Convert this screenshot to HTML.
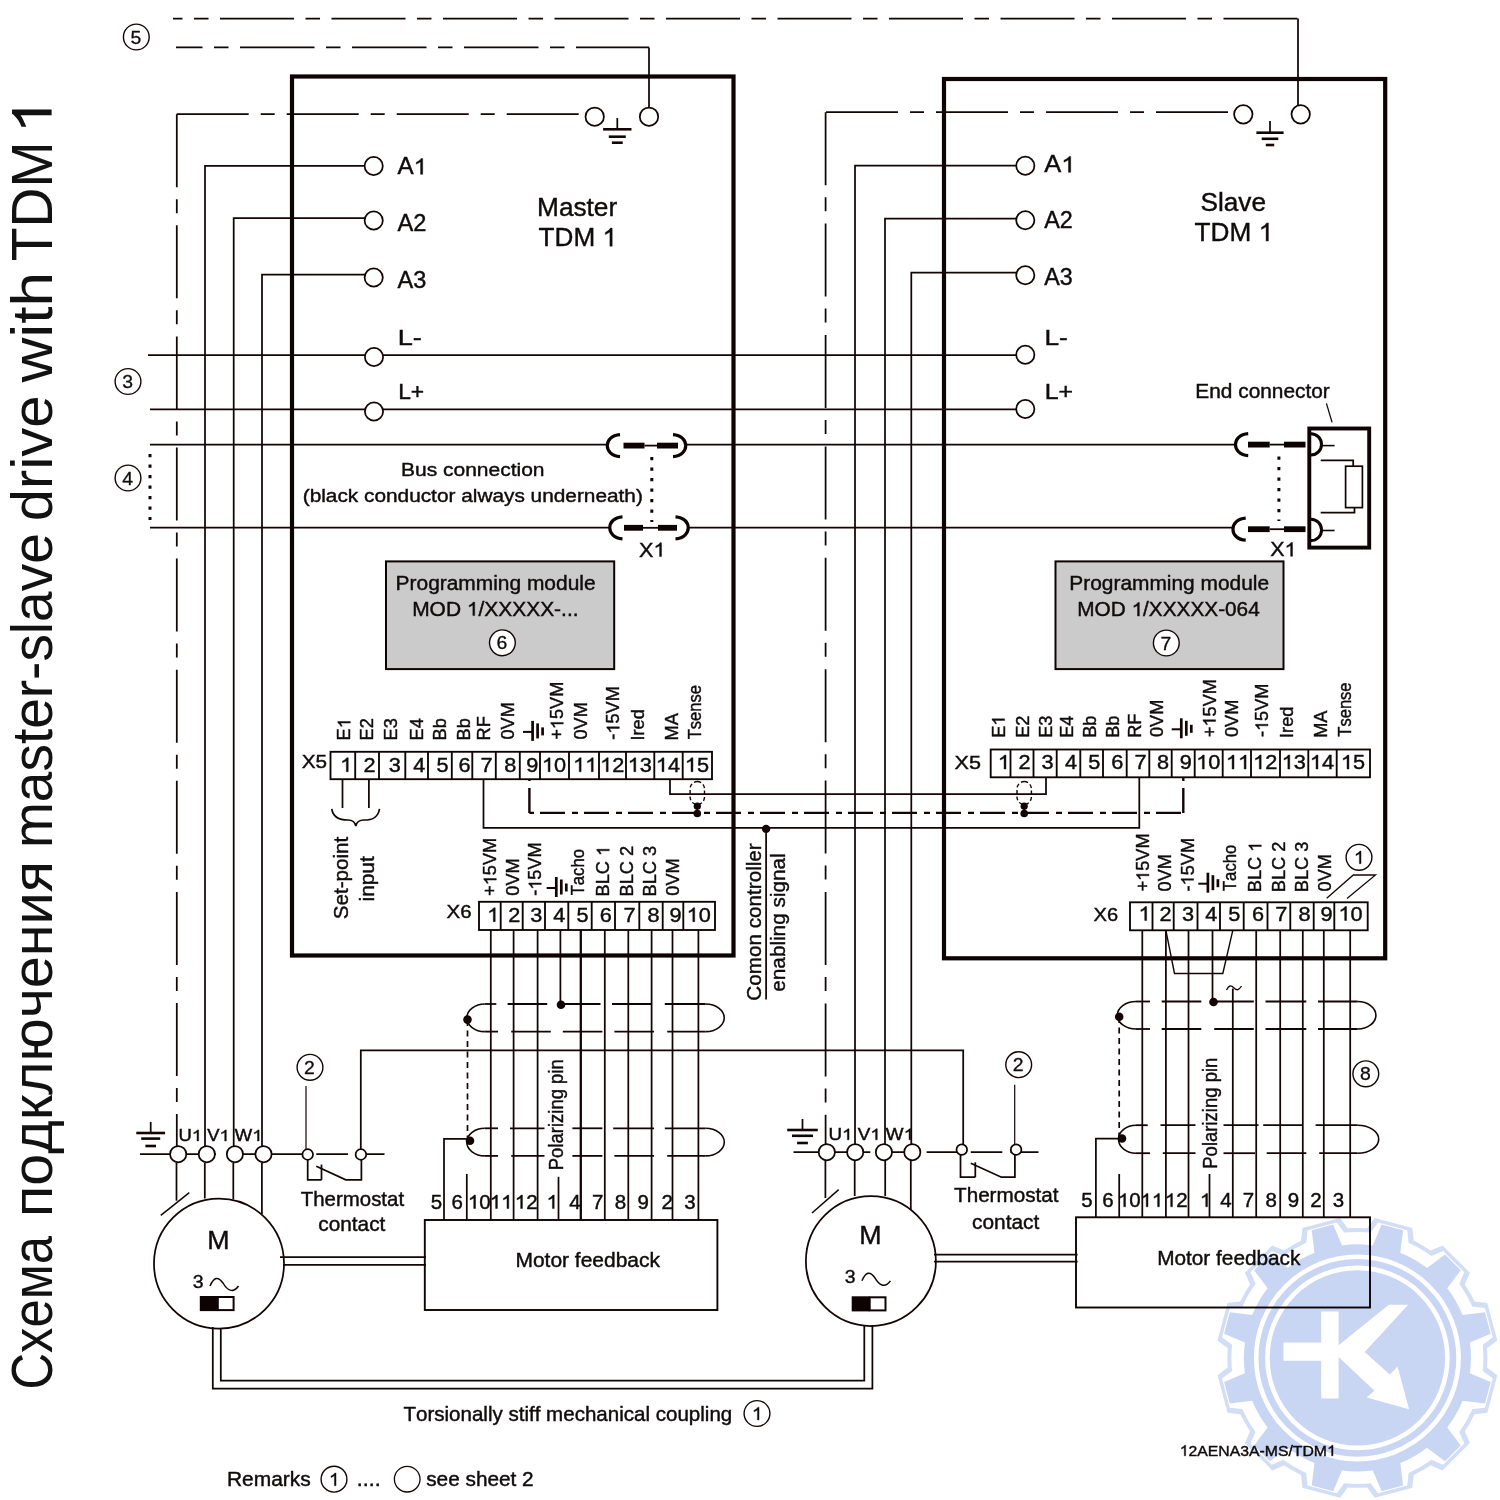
<!DOCTYPE html>
<html><head><meta charset="utf-8">
<style>
html,body{margin:0;padding:0;background:#fff;width:1500px;height:1500px;overflow:hidden}
svg{display:block;position:absolute;left:0;top:0}
text{font-family:"Liberation Sans",sans-serif;font-kerning:none;font-variant-ligatures:none}
</style></head><body>
<svg width="1500" height="1500" viewBox="0 0 1500 1500">
<rect x="0" y="0" width="1500" height="1500" fill="#fff"/>
<g transform="translate(51.60,1389.58) rotate(-90) scale(0.8838,1)" fill="#121212"><text font-size="57.5" stroke="#121212" stroke-width="0">Схема</text></g>
<g transform="translate(51.60,1216.99) rotate(-90) scale(1.0015,1)" fill="#121212"><text font-size="57.5" stroke="#121212" stroke-width="0">подключения</text></g>
<g transform="translate(51.60,847.95) rotate(-90) scale(0.9562,1)" fill="#121212"><text font-size="57.5" stroke="#121212" stroke-width="0">master-slave</text></g>
<g transform="translate(51.60,521.13) rotate(-90) scale(1.0079,1)" fill="#121212"><text font-size="57.5" stroke="#121212" stroke-width="0">drive</text></g>
<g transform="translate(51.60,382.61) rotate(-90) scale(1.0821,1)" fill="#121212"><text font-size="57.5" stroke="#121212" stroke-width="0">with</text></g>
<g transform="translate(51.60,261.24) rotate(-90) scale(0.9626,1)" fill="#121212"><text font-size="57.5" stroke="#121212" stroke-width="0">TDM</text></g>
<g transform="translate(51.60,133.72) rotate(-90) scale(1.1258,1)" fill="#121212"><text font-size="57.5" stroke="#121212" stroke-width="0"> </text><path d="M763,0H583V1107C530,1057 320,940 222,905V1075C370,1135 550,1270 628,1409H763Z" transform="translate(0.00,0) scale(0.02808,-0.02808)" stroke="#121212" stroke-width="0.0"/></g>
<path d="M173,18.6 H1298" fill="none" stroke="#140505" stroke-width="1.75" stroke-dasharray="74 11.5 14.5 11.5" stroke-dashoffset="64.5"/>
<line x1="1298" y1="18.6" x2="1298" y2="105.3" stroke="#140505" stroke-width="1.75" />
<path d="M176,47.4 H649" fill="none" stroke="#140505" stroke-width="1.75" stroke-dasharray="74.5 11.5 14.5 11.5" stroke-dashoffset="48"/>
<line x1="649" y1="47.4" x2="649" y2="108" stroke="#140505" stroke-width="1.75" />
<circle cx="136.3" cy="37" r="12.9" fill="#fff" stroke="#140505" stroke-width="1.4" />
<g transform="translate(130.42,43.50) scale(1.0500,1)" fill="#100c0c"><text font-size="18.5" stroke="#100c0c" stroke-width="0.3">5</text></g>
<rect x="292" y="76.5" width="441.50" height="879.00" fill="none" stroke="#0e0303" stroke-width="4.2" />
<rect x="944" y="79" width="441.20" height="879.30" fill="none" stroke="#0e0303" stroke-width="4.2" />
<path d="M176.7,114.2 H585.5" fill="none" stroke="#140505" stroke-width="1.75" stroke-dasharray="72 12 14 12"/>
<path d="M176.8,114.2 V1147" fill="none" stroke="#140505" stroke-width="1.75" stroke-dasharray="73 12 14 12.1"/>
<circle cx="594.7" cy="116.7" r="9.2" fill="#fff" stroke="#140505" stroke-width="1.75" />
<circle cx="649" cy="116.7" r="9.2" fill="#fff" stroke="#140505" stroke-width="1.75" />
<line x1="617.3" y1="118" x2="617.3" y2="129" stroke="#140505" stroke-width="1.75" />
<line x1="603.0999999999999" y1="129.3" x2="631.5" y2="129.3" stroke="#140505" stroke-width="2.6" />
<line x1="608.8" y1="136.7" x2="625.8" y2="136.7" stroke="#140505" stroke-width="2.6" />
<line x1="611.9" y1="142.7" x2="622.6999999999999" y2="142.7" stroke="#140505" stroke-width="2.6" />
<path d="M826,112.2 H1234" fill="none" stroke="#140505" stroke-width="1.75" stroke-dasharray="72 12 14 12"/>
<path d="M825.6,112.2 V1144" fill="none" stroke="#140505" stroke-width="1.75" stroke-dasharray="73 12 14 12.4"/>
<circle cx="1243.3" cy="114.3" r="9.2" fill="#fff" stroke="#140505" stroke-width="1.75" />
<circle cx="1300.7" cy="114.3" r="9.2" fill="#fff" stroke="#140505" stroke-width="1.75" />
<line x1="1270" y1="121" x2="1270" y2="132.5" stroke="#140505" stroke-width="1.75" />
<line x1="1256.4" y1="132.7" x2="1283.6" y2="132.7" stroke="#140505" stroke-width="2.6" />
<line x1="1261.7" y1="138.8" x2="1278.3" y2="138.8" stroke="#140505" stroke-width="2.6" />
<line x1="1265.8" y1="145" x2="1274.2" y2="145" stroke="#140505" stroke-width="2.6" />
<polyline points="205,1147 205,165.9 364.8,165.9" fill="none" stroke="#140505" stroke-width="1.75" />
<circle cx="373.7" cy="166" r="9.1" fill="#fff" stroke="#140505" stroke-width="1.75" />
<g transform="translate(397.55,174.30) scale(1.0518,1)" fill="#100c0c"><text font-size="23" stroke="#100c0c" stroke-width="0.42">A </text><path d="M763,0H583V1107C530,1057 320,940 222,905V1075C370,1135 550,1270 628,1409H763Z" transform="translate(15.34,0) scale(0.01123,-0.01123)" stroke="#100c0c" stroke-width="37.4"/></g>
<polyline points="233.7,1147 233.7,218 364.8,218" fill="none" stroke="#140505" stroke-width="1.75" />
<circle cx="373.7" cy="220.5" r="9.1" fill="#fff" stroke="#140505" stroke-width="1.75" />
<g transform="translate(397.55,230.90) scale(1.0286,1)" fill="#100c0c"><text font-size="23" stroke="#100c0c" stroke-width="0.42">A2</text></g>
<polyline points="262,1147 262,274.6 364.8,274.6" fill="none" stroke="#140505" stroke-width="1.75" />
<circle cx="373.7" cy="277.5" r="9.1" fill="#fff" stroke="#140505" stroke-width="1.75" />
<g transform="translate(397.55,287.70) scale(1.0230,1)" fill="#100c0c"><text font-size="23" stroke="#100c0c" stroke-width="0.42">A3</text></g>
<polyline points="855,1144 855,165.7 1016,165.7" fill="none" stroke="#140505" stroke-width="1.75" />
<circle cx="1025.3" cy="165.7" r="9.1" fill="#fff" stroke="#140505" stroke-width="1.75" />
<g transform="translate(1044.25,172.30) scale(1.1062,1)" fill="#100c0c"><text font-size="23" stroke="#100c0c" stroke-width="0.42">A </text><path d="M763,0H583V1107C530,1057 320,940 222,905V1075C370,1135 550,1270 628,1409H763Z" transform="translate(15.34,0) scale(0.01123,-0.01123)" stroke="#100c0c" stroke-width="37.4"/></g>
<polyline points="885,1144 885,218.5 1016,218.5" fill="none" stroke="#140505" stroke-width="1.75" />
<circle cx="1025.3" cy="220.3" r="9.1" fill="#fff" stroke="#140505" stroke-width="1.75" />
<g transform="translate(1044.25,228.30) scale(1.0174,1)" fill="#100c0c"><text font-size="23" stroke="#100c0c" stroke-width="0.42">A2</text></g>
<polyline points="911.3,1144 911.3,272.5 1016,272.5" fill="none" stroke="#140505" stroke-width="1.75" />
<circle cx="1025.3" cy="275.3" r="9.1" fill="#fff" stroke="#140505" stroke-width="1.75" />
<g transform="translate(1044.25,285.00) scale(1.0119,1)" fill="#100c0c"><text font-size="23" stroke="#100c0c" stroke-width="0.42">A3</text></g>
<line x1="148" y1="355" x2="1017" y2="355" stroke="#140505" stroke-width="1.75" />
<circle cx="374" cy="357" r="9.1" fill="#fff" stroke="#140505" stroke-width="1.75" />
<circle cx="1025.3" cy="354.7" r="9.1" fill="#fff" stroke="#140505" stroke-width="1.75" />
<g transform="translate(397.77,345.00) scale(1.2337,1)" fill="#100c0c"><text font-size="22" stroke="#100c0c" stroke-width="0.42">L-</text></g>
<g transform="translate(1044.55,345.00) scale(1.1919,1)" fill="#100c0c"><text font-size="22" stroke="#100c0c" stroke-width="0.42">L-</text></g>
<line x1="150" y1="409.3" x2="1017" y2="409.3" stroke="#140505" stroke-width="1.75" />
<circle cx="374" cy="411.5" r="9.1" fill="#fff" stroke="#140505" stroke-width="1.75" />
<circle cx="1025.3" cy="409" r="9.1" fill="#fff" stroke="#140505" stroke-width="1.75" />
<g transform="translate(398.13,399.00) scale(1.0363,1)" fill="#100c0c"><text font-size="22" stroke="#100c0c" stroke-width="0.42">L+</text></g>
<g transform="translate(1044.67,399.00) scale(1.1265,1)" fill="#100c0c"><text font-size="22" stroke="#100c0c" stroke-width="0.42">L+</text></g>
<circle cx="128" cy="381.5" r="12.9" fill="#fff" stroke="#140505" stroke-width="1.4" />
<g transform="translate(122.16,388.00) scale(1.0500,1)" fill="#100c0c"><text font-size="18.5" stroke="#100c0c" stroke-width="0.3">3</text></g>
<line x1="150" y1="444.5" x2="606.5" y2="444.5" stroke="#140505" stroke-width="1.75" />
<line x1="686" y1="444.5" x2="1235" y2="444.5" stroke="#140505" stroke-width="1.75" />
<line x1="150" y1="527.5" x2="609" y2="527.5" stroke="#140505" stroke-width="1.75" />
<line x1="688.5" y1="527.5" x2="1232.7" y2="527.5" stroke="#140505" stroke-width="1.75" />
<path d="M150,454 V520" fill="none" stroke="#140505" stroke-width="3.0" stroke-dasharray="3.2 7.3"/>
<circle cx="128" cy="478" r="12.9" fill="#fff" stroke="#140505" stroke-width="1.4" />
<g transform="translate(122.16,484.50) scale(1.0500,1)" fill="#100c0c"><text font-size="18.5" stroke="#100c0c" stroke-width="0.3">4</text></g>
<g transform="translate(400.98,476.00) scale(1.1060,1)" fill="#100c0c"><text font-size="19" stroke="#100c0c" stroke-width="0.42">Bus connection</text></g>
<g transform="translate(302.71,501.70) scale(1.0959,1)" fill="#100c0c"><text font-size="19" stroke="#100c0c" stroke-width="0.42">(black conductor always underneath)</text></g>
<path d="M620,434.6 C603,435.6 603,455.6 620,456.6" fill="none" stroke="#0e0303" stroke-width="3.2" />
<rect x="623.5" y="442.70000000000005" width="21.0" height="5.8" fill="#0e0303"/>
<rect x="657" y="442.70000000000005" width="21" height="5.8" fill="#0e0303"/>
<line x1="644.5" y1="445.6" x2="657" y2="445.6" stroke="#140505" stroke-width="1.8" />
<path d="M673,434.6 C690,435.6 690,455.6 673,456.6" fill="none" stroke="#0e0303" stroke-width="3.2" />
<path d="M622.5,516.8 C605.5,517.8 605.5,537.8 622.5,538.8" fill="none" stroke="#0e0303" stroke-width="3.2" />
<rect x="624" y="524.9" width="19" height="5.8" fill="#0e0303"/>
<rect x="658" y="524.9" width="19" height="5.8" fill="#0e0303"/>
<line x1="643" y1="527.8" x2="658" y2="527.8" stroke="#140505" stroke-width="1.8" />
<path d="M675.5,516.8 C692.5,517.8 692.5,537.8 675.5,538.8" fill="none" stroke="#0e0303" stroke-width="3.2" />
<path d="M651.8,457 V522" fill="none" stroke="#140505" stroke-width="3.0" stroke-dasharray="3.2 7.3"/>
<g transform="translate(639.01,556.50) scale(1.0815,1)" fill="#100c0c"><text font-size="20" stroke="#100c0c" stroke-width="0.42">X </text><path d="M763,0H583V1107C530,1057 320,940 222,905V1075C370,1135 550,1270 628,1409H763Z" transform="translate(13.34,0) scale(0.00977,-0.00977)" stroke="#100c0c" stroke-width="43.0"/></g>
<path d="M1248.2,433.6 C1231.2,434.6 1231.2,454.6 1248.2,455.6" fill="none" stroke="#0e0303" stroke-width="3.2" />
<rect x="1248" y="441.70000000000005" width="21.700000000000045" height="5.8" fill="#0e0303"/>
<rect x="1284" y="441.70000000000005" width="21.5" height="5.8" fill="#0e0303"/>
<line x1="1269.7" y1="444.6" x2="1284" y2="444.6" stroke="#140505" stroke-width="1.8" />
<path d="M1245.7,518.2 C1228.7,519.2 1228.7,539.2 1245.7,540.2" fill="none" stroke="#0e0303" stroke-width="3.2" />
<rect x="1248" y="526.3000000000001" width="21.700000000000045" height="5.8" fill="#0e0303"/>
<rect x="1284" y="526.3000000000001" width="21.5" height="5.8" fill="#0e0303"/>
<line x1="1269.7" y1="529.2" x2="1284" y2="529.2" stroke="#140505" stroke-width="1.8" />
<path d="M1278.9,456.5 V521" fill="none" stroke="#140505" stroke-width="3.0" stroke-dasharray="3.2 7.3"/>
<g transform="translate(1270.22,556.30) scale(1.0717,1)" fill="#100c0c"><text font-size="20" stroke="#100c0c" stroke-width="0.42">X </text><path d="M763,0H583V1107C530,1057 320,940 222,905V1075C370,1135 550,1270 628,1409H763Z" transform="translate(13.34,0) scale(0.00977,-0.00977)" stroke="#100c0c" stroke-width="43.0"/></g>
<rect x="1309.3" y="428.5" width="59.90" height="119.10" fill="none" stroke="#0e0303" stroke-width="3.9" />
<path d="M1311,433.8 A10.5,10.6 0 0 1 1311,455" fill="none" stroke="#0e0303" stroke-width="3.0" />
<path d="M1311,519.3 A10.5,10.6 0 0 1 1311,540.6" fill="none" stroke="#0e0303" stroke-width="3.0" />
<line x1="1322" y1="445.6" x2="1334.6" y2="445.6" stroke="#140505" stroke-width="1.6" />
<line x1="1322" y1="530.5" x2="1334.6" y2="530.5" stroke="#140505" stroke-width="1.6" />
<rect x="1345.6" y="466.2" width="16.80" height="41.40" fill="none" stroke="#140505" stroke-width="1.7" />
<polyline points="1320.7,460.4 1353.2,460.4 1353.2,466.2" fill="none" stroke="#140505" stroke-width="1.75" />
<polyline points="1320.7,512.7 1354.5,512.7 1354.5,507.6" fill="none" stroke="#140505" stroke-width="1.75" />
<line x1="1326.4" y1="403.4" x2="1332.1" y2="422.4" stroke="#140505" stroke-width="1.3" />
<g transform="translate(1195.29,397.50) scale(1.0700,1)" fill="#100c0c"><text font-size="19.5" stroke="#100c0c" stroke-width="0.42">End connector</text></g>
<g transform="translate(537.05,215.60) scale(0.9977,1)" fill="#100c0c"><text font-size="26.3" stroke="#100c0c" stroke-width="0.42">Master</text></g>
<g transform="translate(538.61,246.20) scale(0.9935,1)" fill="#100c0c"><text font-size="26.3" stroke="#100c0c" stroke-width="0.42">TDM  </text><path d="M763,0H583V1107C530,1057 320,940 222,905V1075C370,1135 550,1270 628,1409H763Z" transform="translate(64.27,0) scale(0.01284,-0.01284)" stroke="#100c0c" stroke-width="32.7"/></g>
<g transform="translate(1200.41,210.60) scale(0.9964,1)" fill="#100c0c"><text font-size="26.3" stroke="#100c0c" stroke-width="0.42">Slave</text></g>
<g transform="translate(1194.61,241.00) scale(0.9962,1)" fill="#100c0c"><text font-size="26.3" stroke="#100c0c" stroke-width="0.42">TDM  </text><path d="M763,0H583V1107C530,1057 320,940 222,905V1075C370,1135 550,1270 628,1409H763Z" transform="translate(64.27,0) scale(0.01284,-0.01284)" stroke="#100c0c" stroke-width="32.7"/></g>
<rect x="386" y="561.4" width="228.20" height="107.70" fill="#cbcbcb" stroke="#0e0303" stroke-width="2.0" />
<g transform="translate(395.58,590.00) scale(1.0677,1)" fill="#100c0c"><text font-size="19.6" stroke="#100c0c" stroke-width="0.42">Programming module</text></g>
<g transform="translate(412.18,615.60) scale(1.0692,1)" fill="#100c0c"><text font-size="19.6" stroke="#100c0c" stroke-width="0.42">MOD  /XXXXX-...</text><path d="M763,0H583V1107C530,1057 320,940 222,905V1075C370,1135 550,1270 628,1409H763Z" transform="translate(51.17,0) scale(0.00957,-0.00957)" stroke="#100c0c" stroke-width="43.9"/></g>
<circle cx="502.4" cy="642.8" r="12.9" fill="#fff" stroke="#140505" stroke-width="1.4" />
<g transform="translate(496.43,649.30) scale(1.0500,1)" fill="#100c0c"><text font-size="18.5" stroke="#100c0c" stroke-width="0.3">6</text></g>
<rect x="1055.5" y="561.4" width="228.00" height="107.70" fill="#cbcbcb" stroke="#0e0303" stroke-width="2.0" />
<g transform="translate(1069.28,590.00) scale(1.0671,1)" fill="#100c0c"><text font-size="19.6" stroke="#100c0c" stroke-width="0.42">Programming module</text></g>
<g transform="translate(1077.29,616.00) scale(1.0610,1)" fill="#100c0c"><text font-size="19.6" stroke="#100c0c" stroke-width="0.42">MOD  /XXXXX-064</text><path d="M763,0H583V1107C530,1057 320,940 222,905V1075C370,1135 550,1270 628,1409H763Z" transform="translate(51.17,0) scale(0.00957,-0.00957)" stroke="#100c0c" stroke-width="43.9"/></g>
<circle cx="1166.3" cy="643" r="12.9" fill="#fff" stroke="#140505" stroke-width="1.4" />
<g transform="translate(1160.39,649.50) scale(1.0500,1)" fill="#100c0c"><text font-size="18.5" stroke="#100c0c" stroke-width="0.3">7</text></g>
<rect x="330.5" y="751.8" width="381.50" height="27.40" fill="none" stroke="#0e0303" stroke-width="1.85" />
<line x1="355.2" y1="751.8" x2="355.2" y2="779.2" stroke="#0e0303" stroke-width="1.85" />
<line x1="379" y1="751.8" x2="379" y2="779.2" stroke="#0e0303" stroke-width="1.85" />
<line x1="405.3" y1="751.8" x2="405.3" y2="779.2" stroke="#0e0303" stroke-width="1.85" />
<line x1="428" y1="751.8" x2="428" y2="779.2" stroke="#0e0303" stroke-width="1.85" />
<line x1="451.8" y1="751.8" x2="451.8" y2="779.2" stroke="#0e0303" stroke-width="1.85" />
<line x1="472.3" y1="751.8" x2="472.3" y2="779.2" stroke="#0e0303" stroke-width="1.85" />
<line x1="495.8" y1="751.8" x2="495.8" y2="779.2" stroke="#0e0303" stroke-width="1.85" />
<line x1="519.8" y1="751.8" x2="519.8" y2="779.2" stroke="#0e0303" stroke-width="1.85" />
<line x1="540" y1="751.8" x2="540" y2="779.2" stroke="#0e0303" stroke-width="1.85" />
<line x1="569" y1="751.8" x2="569" y2="779.2" stroke="#0e0303" stroke-width="1.85" />
<line x1="599" y1="751.8" x2="599" y2="779.2" stroke="#0e0303" stroke-width="1.85" />
<line x1="626" y1="751.8" x2="626" y2="779.2" stroke="#0e0303" stroke-width="1.85" />
<line x1="654.3" y1="751.8" x2="654.3" y2="779.2" stroke="#0e0303" stroke-width="1.85" />
<line x1="682.7" y1="751.8" x2="682.7" y2="779.2" stroke="#0e0303" stroke-width="1.85" />
<g transform="translate(340.13,771.70) scale(1.0700,1)" fill="#100c0c"><text font-size="20.3" stroke="#100c0c" stroke-width="0.42"> </text><path d="M763,0H583V1107C530,1057 320,940 222,905V1075C370,1135 550,1270 628,1409H763Z" transform="translate(0.00,0) scale(0.00991,-0.00991)" stroke="#100c0c" stroke-width="42.4"/></g>
<g transform="translate(363.56,771.70) scale(1.0700,1)" fill="#100c0c"><text font-size="20.3" stroke="#100c0c" stroke-width="0.42">2</text></g>
<g transform="translate(388.67,771.70) scale(1.0700,1)" fill="#100c0c"><text font-size="20.3" stroke="#100c0c" stroke-width="0.42">3</text></g>
<g transform="translate(413.18,771.70) scale(1.0700,1)" fill="#100c0c"><text font-size="20.3" stroke="#100c0c" stroke-width="0.42">4</text></g>
<g transform="translate(436.38,771.70) scale(1.0700,1)" fill="#100c0c"><text font-size="20.3" stroke="#100c0c" stroke-width="0.42">5</text></g>
<g transform="translate(458.44,771.70) scale(1.0700,1)" fill="#100c0c"><text font-size="20.3" stroke="#100c0c" stroke-width="0.42">6</text></g>
<g transform="translate(480.50,771.70) scale(1.0700,1)" fill="#100c0c"><text font-size="20.3" stroke="#100c0c" stroke-width="0.42">7</text></g>
<g transform="translate(504.26,771.70) scale(1.0700,1)" fill="#100c0c"><text font-size="20.3" stroke="#100c0c" stroke-width="0.42">8</text></g>
<g transform="translate(526.37,771.70) scale(1.0700,1)" fill="#100c0c"><text font-size="20.3" stroke="#100c0c" stroke-width="0.42">9</text></g>
<g transform="translate(541.97,771.70) scale(1.0700,1)" fill="#100c0c"><text font-size="20.3" stroke="#100c0c" stroke-width="0.42"> 0</text><path d="M763,0H583V1107C530,1057 320,940 222,905V1075C370,1135 550,1270 628,1409H763Z" transform="translate(0.00,0) scale(0.00991,-0.00991)" stroke="#100c0c" stroke-width="42.4"/></g>
<g transform="translate(573.04,771.70) scale(1.0700,1)" fill="#100c0c"><text font-size="20.3" stroke="#100c0c" stroke-width="0.42">  </text><path d="M763,0H583V1107C530,1057 320,940 222,905V1075C370,1135 550,1270 628,1409H763Z" transform="translate(0.00,0) scale(0.00991,-0.00991)" stroke="#100c0c" stroke-width="42.4"/><path d="M763,0H583V1107C530,1057 320,940 222,905V1075C370,1135 550,1270 628,1409H763Z" transform="translate(11.29,0) scale(0.00991,-0.00991)" stroke="#100c0c" stroke-width="42.4"/></g>
<g transform="translate(600.09,771.70) scale(1.0700,1)" fill="#100c0c"><text font-size="20.3" stroke="#100c0c" stroke-width="0.42"> 2</text><path d="M763,0H583V1107C530,1057 320,940 222,905V1075C370,1135 550,1270 628,1409H763Z" transform="translate(0.00,0) scale(0.00991,-0.00991)" stroke="#100c0c" stroke-width="42.4"/></g>
<g transform="translate(627.67,771.70) scale(1.0700,1)" fill="#100c0c"><text font-size="20.3" stroke="#100c0c" stroke-width="0.42"> 3</text><path d="M763,0H583V1107C530,1057 320,940 222,905V1075C370,1135 550,1270 628,1409H763Z" transform="translate(0.00,0) scale(0.00991,-0.00991)" stroke="#100c0c" stroke-width="42.4"/></g>
<g transform="translate(655.86,771.70) scale(1.0700,1)" fill="#100c0c"><text font-size="20.3" stroke="#100c0c" stroke-width="0.42"> 4</text><path d="M763,0H583V1107C530,1057 320,940 222,905V1075C370,1135 550,1270 628,1409H763Z" transform="translate(0.00,0) scale(0.00991,-0.00991)" stroke="#100c0c" stroke-width="42.4"/></g>
<g transform="translate(684.85,771.70) scale(1.0700,1)" fill="#100c0c"><text font-size="20.3" stroke="#100c0c" stroke-width="0.42"> 5</text><path d="M763,0H583V1107C530,1057 320,940 222,905V1075C370,1135 550,1270 628,1409H763Z" transform="translate(0.00,0) scale(0.00991,-0.00991)" stroke="#100c0c" stroke-width="42.4"/></g>
<g transform="translate(301.73,768.30) scale(1.0902,1)" fill="#100c0c"><text font-size="19" stroke="#100c0c" stroke-width="0.42">X5</text></g>
<rect x="990.7" y="749.5" width="379.30" height="27.80" fill="none" stroke="#0e0303" stroke-width="1.85" />
<line x1="1010.5" y1="749.5" x2="1010.5" y2="777.3" stroke="#0e0303" stroke-width="1.85" />
<line x1="1033.5" y1="749.5" x2="1033.5" y2="777.3" stroke="#0e0303" stroke-width="1.85" />
<line x1="1056.7" y1="749.5" x2="1056.7" y2="777.3" stroke="#0e0303" stroke-width="1.85" />
<line x1="1080.3" y1="749.5" x2="1080.3" y2="777.3" stroke="#0e0303" stroke-width="1.85" />
<line x1="1103" y1="749.5" x2="1103" y2="777.3" stroke="#0e0303" stroke-width="1.85" />
<line x1="1126.7" y1="749.5" x2="1126.7" y2="777.3" stroke="#0e0303" stroke-width="1.85" />
<line x1="1149.3" y1="749.5" x2="1149.3" y2="777.3" stroke="#0e0303" stroke-width="1.85" />
<line x1="1171.7" y1="749.5" x2="1171.7" y2="777.3" stroke="#0e0303" stroke-width="1.85" />
<line x1="1194.7" y1="749.5" x2="1194.7" y2="777.3" stroke="#0e0303" stroke-width="1.85" />
<line x1="1222.7" y1="749.5" x2="1222.7" y2="777.3" stroke="#0e0303" stroke-width="1.85" />
<line x1="1251" y1="749.5" x2="1251" y2="777.3" stroke="#0e0303" stroke-width="1.85" />
<line x1="1280" y1="749.5" x2="1280" y2="777.3" stroke="#0e0303" stroke-width="1.85" />
<line x1="1308.3" y1="749.5" x2="1308.3" y2="777.3" stroke="#0e0303" stroke-width="1.85" />
<line x1="1336.7" y1="749.5" x2="1336.7" y2="777.3" stroke="#0e0303" stroke-width="1.85" />
<g transform="translate(997.88,769.00) scale(1.0700,1)" fill="#100c0c"><text font-size="20.3" stroke="#100c0c" stroke-width="0.42"> </text><path d="M763,0H583V1107C530,1057 320,940 222,905V1075C370,1135 550,1270 628,1409H763Z" transform="translate(0.00,0) scale(0.00991,-0.00991)" stroke="#100c0c" stroke-width="42.4"/></g>
<g transform="translate(1018.46,769.00) scale(1.0700,1)" fill="#100c0c"><text font-size="20.3" stroke="#100c0c" stroke-width="0.42">2</text></g>
<g transform="translate(1041.62,769.00) scale(1.0700,1)" fill="#100c0c"><text font-size="20.3" stroke="#100c0c" stroke-width="0.42">3</text></g>
<g transform="translate(1065.03,769.00) scale(1.0700,1)" fill="#100c0c"><text font-size="20.3" stroke="#100c0c" stroke-width="0.42">4</text></g>
<g transform="translate(1088.13,769.00) scale(1.0700,1)" fill="#100c0c"><text font-size="20.3" stroke="#100c0c" stroke-width="0.42">5</text></g>
<g transform="translate(1111.24,769.00) scale(1.0700,1)" fill="#100c0c"><text font-size="20.3" stroke="#100c0c" stroke-width="0.42">6</text></g>
<g transform="translate(1134.45,769.00) scale(1.0700,1)" fill="#100c0c"><text font-size="20.3" stroke="#100c0c" stroke-width="0.42">7</text></g>
<g transform="translate(1156.96,769.00) scale(1.0700,1)" fill="#100c0c"><text font-size="20.3" stroke="#100c0c" stroke-width="0.42">8</text></g>
<g transform="translate(1179.67,769.00) scale(1.0700,1)" fill="#100c0c"><text font-size="20.3" stroke="#100c0c" stroke-width="0.42">9</text></g>
<g transform="translate(1196.17,769.00) scale(1.0700,1)" fill="#100c0c"><text font-size="20.3" stroke="#100c0c" stroke-width="0.42"> 0</text><path d="M763,0H583V1107C530,1057 320,940 222,905V1075C370,1135 550,1270 628,1409H763Z" transform="translate(0.00,0) scale(0.00991,-0.00991)" stroke="#100c0c" stroke-width="42.4"/></g>
<g transform="translate(1225.89,769.00) scale(1.0700,1)" fill="#100c0c"><text font-size="20.3" stroke="#100c0c" stroke-width="0.42">  </text><path d="M763,0H583V1107C530,1057 320,940 222,905V1075C370,1135 550,1270 628,1409H763Z" transform="translate(0.00,0) scale(0.00991,-0.00991)" stroke="#100c0c" stroke-width="42.4"/><path d="M763,0H583V1107C530,1057 320,940 222,905V1075C370,1135 550,1270 628,1409H763Z" transform="translate(11.29,0) scale(0.00991,-0.00991)" stroke="#100c0c" stroke-width="42.4"/></g>
<g transform="translate(1253.09,769.00) scale(1.0700,1)" fill="#100c0c"><text font-size="20.3" stroke="#100c0c" stroke-width="0.42"> 2</text><path d="M763,0H583V1107C530,1057 320,940 222,905V1075C370,1135 550,1270 628,1409H763Z" transform="translate(0.00,0) scale(0.00991,-0.00991)" stroke="#100c0c" stroke-width="42.4"/></g>
<g transform="translate(1281.67,769.00) scale(1.0700,1)" fill="#100c0c"><text font-size="20.3" stroke="#100c0c" stroke-width="0.42"> 3</text><path d="M763,0H583V1107C530,1057 320,940 222,905V1075C370,1135 550,1270 628,1409H763Z" transform="translate(0.00,0) scale(0.00991,-0.00991)" stroke="#100c0c" stroke-width="42.4"/></g>
<g transform="translate(1309.86,769.00) scale(1.0700,1)" fill="#100c0c"><text font-size="20.3" stroke="#100c0c" stroke-width="0.42"> 4</text><path d="M763,0H583V1107C530,1057 320,940 222,905V1075C370,1135 550,1270 628,1409H763Z" transform="translate(0.00,0) scale(0.00991,-0.00991)" stroke="#100c0c" stroke-width="42.4"/></g>
<g transform="translate(1340.85,769.00) scale(1.0700,1)" fill="#100c0c"><text font-size="20.3" stroke="#100c0c" stroke-width="0.42"> 5</text><path d="M763,0H583V1107C530,1057 320,940 222,905V1075C370,1135 550,1270 628,1409H763Z" transform="translate(0.00,0) scale(0.00991,-0.00991)" stroke="#100c0c" stroke-width="42.4"/></g>
<g transform="translate(954.52,769.00) scale(1.1356,1)" fill="#100c0c"><text font-size="19" stroke="#100c0c" stroke-width="0.42">X5</text></g>
<rect x="479" y="901.8" width="236.00" height="28.20" fill="none" stroke="#0e0303" stroke-width="1.85" />
<line x1="500.7" y1="901.8" x2="500.7" y2="930" stroke="#0e0303" stroke-width="1.85" />
<line x1="522.7" y1="901.8" x2="522.7" y2="930" stroke="#0e0303" stroke-width="1.85" />
<line x1="545" y1="901.8" x2="545" y2="930" stroke="#0e0303" stroke-width="1.85" />
<line x1="568.3" y1="901.8" x2="568.3" y2="930" stroke="#0e0303" stroke-width="1.85" />
<line x1="591.7" y1="901.8" x2="591.7" y2="930" stroke="#0e0303" stroke-width="1.85" />
<line x1="615" y1="901.8" x2="615" y2="930" stroke="#0e0303" stroke-width="1.85" />
<line x1="639.3" y1="901.8" x2="639.3" y2="930" stroke="#0e0303" stroke-width="1.85" />
<line x1="662.7" y1="901.8" x2="662.7" y2="930" stroke="#0e0303" stroke-width="1.85" />
<line x1="683.3" y1="901.8" x2="683.3" y2="930" stroke="#0e0303" stroke-width="1.85" />
<g transform="translate(487.13,921.70) scale(1.0700,1)" fill="#100c0c"><text font-size="20.3" stroke="#100c0c" stroke-width="0.42"> </text><path d="M763,0H583V1107C530,1057 320,940 222,905V1075C370,1135 550,1270 628,1409H763Z" transform="translate(0.00,0) scale(0.00991,-0.00991)" stroke="#100c0c" stroke-width="42.4"/></g>
<g transform="translate(508.16,921.70) scale(1.0700,1)" fill="#100c0c"><text font-size="20.3" stroke="#100c0c" stroke-width="0.42">2</text></g>
<g transform="translate(530.37,921.70) scale(1.0700,1)" fill="#100c0c"><text font-size="20.3" stroke="#100c0c" stroke-width="0.42">3</text></g>
<g transform="translate(553.18,921.70) scale(1.0700,1)" fill="#100c0c"><text font-size="20.3" stroke="#100c0c" stroke-width="0.42">4</text></g>
<g transform="translate(576.48,921.70) scale(1.0700,1)" fill="#100c0c"><text font-size="20.3" stroke="#100c0c" stroke-width="0.42">5</text></g>
<g transform="translate(599.74,921.70) scale(1.0700,1)" fill="#100c0c"><text font-size="20.3" stroke="#100c0c" stroke-width="0.42">6</text></g>
<g transform="translate(623.60,921.70) scale(1.0700,1)" fill="#100c0c"><text font-size="20.3" stroke="#100c0c" stroke-width="0.42">7</text></g>
<g transform="translate(647.46,921.70) scale(1.0700,1)" fill="#100c0c"><text font-size="20.3" stroke="#100c0c" stroke-width="0.42">8</text></g>
<g transform="translate(669.47,921.70) scale(1.0700,1)" fill="#100c0c"><text font-size="20.3" stroke="#100c0c" stroke-width="0.42">9</text></g>
<g transform="translate(686.62,921.70) scale(1.0700,1)" fill="#100c0c"><text font-size="20.3" stroke="#100c0c" stroke-width="0.42"> 0</text><path d="M763,0H583V1107C530,1057 320,940 222,905V1075C370,1135 550,1270 628,1409H763Z" transform="translate(0.00,0) scale(0.00991,-0.00991)" stroke="#100c0c" stroke-width="42.4"/></g>
<g transform="translate(446.54,918.30) scale(1.0783,1)" fill="#100c0c"><text font-size="19" stroke="#100c0c" stroke-width="0.42">X6</text></g>
<rect x="1130" y="902.3" width="237.70" height="28.00" fill="none" stroke="#0e0303" stroke-width="1.85" />
<line x1="1152.5" y1="902.3" x2="1152.5" y2="930.3" stroke="#0e0303" stroke-width="1.85" />
<line x1="1173.7" y1="902.3" x2="1173.7" y2="930.3" stroke="#0e0303" stroke-width="1.85" />
<line x1="1197.5" y1="902.3" x2="1197.5" y2="930.3" stroke="#0e0303" stroke-width="1.85" />
<line x1="1220" y1="902.3" x2="1220" y2="930.3" stroke="#0e0303" stroke-width="1.85" />
<line x1="1243.7" y1="902.3" x2="1243.7" y2="930.3" stroke="#0e0303" stroke-width="1.85" />
<line x1="1267.5" y1="902.3" x2="1267.5" y2="930.3" stroke="#0e0303" stroke-width="1.85" />
<line x1="1290.3" y1="902.3" x2="1290.3" y2="930.3" stroke="#0e0303" stroke-width="1.85" />
<line x1="1313.7" y1="902.3" x2="1313.7" y2="930.3" stroke="#0e0303" stroke-width="1.85" />
<line x1="1334.3" y1="902.3" x2="1334.3" y2="930.3" stroke="#0e0303" stroke-width="1.85" />
<g transform="translate(1138.53,920.50) scale(1.0700,1)" fill="#100c0c"><text font-size="20.3" stroke="#100c0c" stroke-width="0.42"> </text><path d="M763,0H583V1107C530,1057 320,940 222,905V1075C370,1135 550,1270 628,1409H763Z" transform="translate(0.00,0) scale(0.00991,-0.00991)" stroke="#100c0c" stroke-width="42.4"/></g>
<g transform="translate(1159.56,920.50) scale(1.0700,1)" fill="#100c0c"><text font-size="20.3" stroke="#100c0c" stroke-width="0.42">2</text></g>
<g transform="translate(1182.12,920.50) scale(1.0700,1)" fill="#100c0c"><text font-size="20.3" stroke="#100c0c" stroke-width="0.42">3</text></g>
<g transform="translate(1205.28,920.50) scale(1.0700,1)" fill="#100c0c"><text font-size="20.3" stroke="#100c0c" stroke-width="0.42">4</text></g>
<g transform="translate(1228.33,920.50) scale(1.0700,1)" fill="#100c0c"><text font-size="20.3" stroke="#100c0c" stroke-width="0.42">5</text></g>
<g transform="translate(1251.99,920.50) scale(1.0700,1)" fill="#100c0c"><text font-size="20.3" stroke="#100c0c" stroke-width="0.42">6</text></g>
<g transform="translate(1275.35,920.50) scale(1.0700,1)" fill="#100c0c"><text font-size="20.3" stroke="#100c0c" stroke-width="0.42">7</text></g>
<g transform="translate(1298.46,920.50) scale(1.0700,1)" fill="#100c0c"><text font-size="20.3" stroke="#100c0c" stroke-width="0.42">8</text></g>
<g transform="translate(1320.47,920.50) scale(1.0700,1)" fill="#100c0c"><text font-size="20.3" stroke="#100c0c" stroke-width="0.42">9</text></g>
<g transform="translate(1338.47,920.50) scale(1.0700,1)" fill="#100c0c"><text font-size="20.3" stroke="#100c0c" stroke-width="0.42"> 0</text><path d="M763,0H583V1107C530,1057 320,940 222,905V1075C370,1135 550,1270 628,1409H763Z" transform="translate(0.00,0) scale(0.00991,-0.00991)" stroke="#100c0c" stroke-width="42.4"/></g>
<g transform="translate(1093.55,920.50) scale(1.0601,1)" fill="#100c0c"><text font-size="19" stroke="#100c0c" stroke-width="0.42">X6</text></g>
<g transform="translate(350.30,740.39) rotate(-90)" fill="#100c0c"><text font-size="18.2" stroke="#100c0c" stroke-width="0.42">E </text><path d="M763,0H583V1107C530,1057 320,940 222,905V1075C370,1135 550,1270 628,1409H763Z" transform="translate(12.14,0) scale(0.00889,-0.00889)" stroke="#100c0c" stroke-width="47.3"/></g>
<g transform="translate(372.80,740.39) rotate(-90)" fill="#100c0c"><text font-size="18.2" stroke="#100c0c" stroke-width="0.42">E2</text></g>
<g transform="translate(397.00,740.39) rotate(-90)" fill="#100c0c"><text font-size="18.2" stroke="#100c0c" stroke-width="0.42">E3</text></g>
<g transform="translate(422.90,740.39) rotate(-90)" fill="#100c0c"><text font-size="18.2" stroke="#100c0c" stroke-width="0.42">E4</text></g>
<g transform="translate(446.10,740.39) rotate(-90)" fill="#100c0c"><text font-size="18.2" stroke="#100c0c" stroke-width="0.42">Bb</text></g>
<g transform="translate(470.10,740.39) rotate(-90)" fill="#100c0c"><text font-size="18.2" stroke="#100c0c" stroke-width="0.42">Bb</text></g>
<g transform="translate(490.10,740.39) rotate(-90)" fill="#100c0c"><text font-size="18.2" stroke="#100c0c" stroke-width="0.42">RF</text></g>
<g transform="translate(513.80,739.61) rotate(-90)" fill="#100c0c"><text font-size="18.2" stroke="#100c0c" stroke-width="0.42">0VM</text></g>
<line x1="523" y1="731.9" x2="532.5" y2="731.9" stroke="#140505" stroke-width="2.0" />
<line x1="532.6" y1="720.9" x2="532.6" y2="740.9" stroke="#140505" stroke-width="2.7" />
<line x1="537.6" y1="723.4" x2="537.6" y2="738.4" stroke="#140505" stroke-width="2.7" />
<line x1="542.6" y1="727.4" x2="542.6" y2="735.4" stroke="#140505" stroke-width="2.7" />
<g transform="translate(563.30,739.79) rotate(-90)" fill="#100c0c"><text font-size="18.2" stroke="#100c0c" stroke-width="0.42">+ 5VM</text><path d="M763,0H583V1107C530,1057 320,940 222,905V1075C370,1135 550,1270 628,1409H763Z" transform="translate(10.63,0) scale(0.00889,-0.00889)" stroke="#100c0c" stroke-width="47.3"/></g>
<g transform="translate(586.70,739.61) rotate(-90)" fill="#100c0c"><text font-size="18.2" stroke="#100c0c" stroke-width="0.42">0VM</text></g>
<g transform="translate(619.30,739.71) rotate(-90)" fill="#100c0c"><text font-size="18.2" stroke="#100c0c" stroke-width="0.42">- 5VM</text><path d="M763,0H583V1107C530,1057 320,940 222,905V1075C370,1135 550,1270 628,1409H763Z" transform="translate(6.06,0) scale(0.00889,-0.00889)" stroke="#100c0c" stroke-width="47.3"/></g>
<g transform="translate(644.00,740.58) rotate(-90)" fill="#100c0c"><text font-size="18.2" stroke="#100c0c" stroke-width="0.42">Ired</text></g>
<g transform="translate(678.00,740.39) rotate(-90)" fill="#100c0c"><text font-size="18.2" stroke="#100c0c" stroke-width="0.42">MA</text></g>
<g transform="translate(701.30,739.27) rotate(-90) scale(0.9099,1)" fill="#100c0c"><text font-size="18.2" stroke="#100c0c" stroke-width="0.42">Tsense</text></g>
<g transform="translate(1004.60,737.79) rotate(-90)" fill="#100c0c"><text font-size="18.2" stroke="#100c0c" stroke-width="0.42">E </text><path d="M763,0H583V1107C530,1057 320,940 222,905V1075C370,1135 550,1270 628,1409H763Z" transform="translate(12.14,0) scale(0.00889,-0.00889)" stroke="#100c0c" stroke-width="47.3"/></g>
<g transform="translate(1029.00,737.79) rotate(-90)" fill="#100c0c"><text font-size="18.2" stroke="#100c0c" stroke-width="0.42">E2</text></g>
<g transform="translate(1052.00,737.79) rotate(-90)" fill="#100c0c"><text font-size="18.2" stroke="#100c0c" stroke-width="0.42">E3</text></g>
<g transform="translate(1073.00,737.79) rotate(-90)" fill="#100c0c"><text font-size="18.2" stroke="#100c0c" stroke-width="0.42">E4</text></g>
<g transform="translate(1096.30,737.79) rotate(-90)" fill="#100c0c"><text font-size="18.2" stroke="#100c0c" stroke-width="0.42">Bb</text></g>
<g transform="translate(1118.60,737.79) rotate(-90)" fill="#100c0c"><text font-size="18.2" stroke="#100c0c" stroke-width="0.42">Bb</text></g>
<g transform="translate(1140.60,737.79) rotate(-90)" fill="#100c0c"><text font-size="18.2" stroke="#100c0c" stroke-width="0.42">RF</text></g>
<g transform="translate(1163.00,737.01) rotate(-90)" fill="#100c0c"><text font-size="18.2" stroke="#100c0c" stroke-width="0.42">0VM</text></g>
<line x1="1171.7" y1="729.3" x2="1181.2" y2="729.3" stroke="#140505" stroke-width="2.0" />
<line x1="1181.3" y1="718.3" x2="1181.3" y2="738.3" stroke="#140505" stroke-width="2.7" />
<line x1="1186.3" y1="720.8" x2="1186.3" y2="735.8" stroke="#140505" stroke-width="2.7" />
<line x1="1191.3" y1="724.8" x2="1191.3" y2="732.8" stroke="#140505" stroke-width="2.7" />
<g transform="translate(1215.60,737.19) rotate(-90)" fill="#100c0c"><text font-size="18.2" stroke="#100c0c" stroke-width="0.42">+ 5VM</text><path d="M763,0H583V1107C530,1057 320,940 222,905V1075C370,1135 550,1270 628,1409H763Z" transform="translate(10.63,0) scale(0.00889,-0.00889)" stroke="#100c0c" stroke-width="47.3"/></g>
<g transform="translate(1238.00,737.01) rotate(-90)" fill="#100c0c"><text font-size="18.2" stroke="#100c0c" stroke-width="0.42">0VM</text></g>
<g transform="translate(1268.00,737.11) rotate(-90)" fill="#100c0c"><text font-size="18.2" stroke="#100c0c" stroke-width="0.42">- 5VM</text><path d="M763,0H583V1107C530,1057 320,940 222,905V1075C370,1135 550,1270 628,1409H763Z" transform="translate(6.06,0) scale(0.00889,-0.00889)" stroke="#100c0c" stroke-width="47.3"/></g>
<g transform="translate(1293.00,737.98) rotate(-90)" fill="#100c0c"><text font-size="18.2" stroke="#100c0c" stroke-width="0.42">Ired</text></g>
<g transform="translate(1327.00,737.79) rotate(-90)" fill="#100c0c"><text font-size="18.2" stroke="#100c0c" stroke-width="0.42">MA</text></g>
<g transform="translate(1351.30,736.67) rotate(-90) scale(0.9099,1)" fill="#100c0c"><text font-size="18.2" stroke="#100c0c" stroke-width="0.42">Tsense</text></g>
<g transform="translate(496.30,895.89) rotate(-90)" fill="#100c0c"><text font-size="18.2" stroke="#100c0c" stroke-width="0.42">+ 5VM</text><path d="M763,0H583V1107C530,1057 320,940 222,905V1075C370,1135 550,1270 628,1409H763Z" transform="translate(10.63,0) scale(0.00889,-0.00889)" stroke="#100c0c" stroke-width="47.3"/></g>
<g transform="translate(519.30,895.71) rotate(-90)" fill="#100c0c"><text font-size="18.2" stroke="#100c0c" stroke-width="0.42">0VM</text></g>
<g transform="translate(541.30,895.81) rotate(-90)" fill="#100c0c"><text font-size="18.2" stroke="#100c0c" stroke-width="0.42">- 5VM</text><path d="M763,0H583V1107C530,1057 320,940 222,905V1075C370,1135 550,1270 628,1409H763Z" transform="translate(6.06,0) scale(0.00889,-0.00889)" stroke="#100c0c" stroke-width="47.3"/></g>
<line x1="546.7" y1="888" x2="556.2" y2="888" stroke="#140505" stroke-width="2.0" />
<line x1="556.3000000000001" y1="877" x2="556.3000000000001" y2="897" stroke="#140505" stroke-width="2.7" />
<line x1="561.3000000000001" y1="879.5" x2="561.3000000000001" y2="894.5" stroke="#140505" stroke-width="2.7" />
<line x1="566.3000000000001" y1="883.5" x2="566.3000000000001" y2="891.5" stroke="#140505" stroke-width="2.7" />
<g transform="translate(584.30,895.37) rotate(-90) scale(0.9168,1)" fill="#100c0c"><text font-size="18.2" stroke="#100c0c" stroke-width="0.42">Tacho</text></g>
<g transform="translate(609.30,896.49) rotate(-90)" fill="#100c0c"><text font-size="18.2" stroke="#100c0c" stroke-width="0.42">BLC  </text><path d="M763,0H583V1107C530,1057 320,940 222,905V1075C370,1135 550,1270 628,1409H763Z" transform="translate(40.46,0) scale(0.00889,-0.00889)" stroke="#100c0c" stroke-width="47.3"/></g>
<g transform="translate(633.00,896.49) rotate(-90)" fill="#100c0c"><text font-size="18.2" stroke="#100c0c" stroke-width="0.42">BLC 2</text></g>
<g transform="translate(656.30,896.49) rotate(-90)" fill="#100c0c"><text font-size="18.2" stroke="#100c0c" stroke-width="0.42">BLC 3</text></g>
<g transform="translate(679.30,895.71) rotate(-90)" fill="#100c0c"><text font-size="18.2" stroke="#100c0c" stroke-width="0.42">0VM</text></g>
<g transform="translate(1149.00,891.59) rotate(-90)" fill="#100c0c"><text font-size="18.2" stroke="#100c0c" stroke-width="0.42">+ 5VM</text><path d="M763,0H583V1107C530,1057 320,940 222,905V1075C370,1135 550,1270 628,1409H763Z" transform="translate(10.63,0) scale(0.00889,-0.00889)" stroke="#100c0c" stroke-width="47.3"/></g>
<g transform="translate(1171.30,891.41) rotate(-90)" fill="#100c0c"><text font-size="18.2" stroke="#100c0c" stroke-width="0.42">0VM</text></g>
<g transform="translate(1193.60,891.51) rotate(-90)" fill="#100c0c"><text font-size="18.2" stroke="#100c0c" stroke-width="0.42">- 5VM</text><path d="M763,0H583V1107C530,1057 320,940 222,905V1075C370,1135 550,1270 628,1409H763Z" transform="translate(6.06,0) scale(0.00889,-0.00889)" stroke="#100c0c" stroke-width="47.3"/></g>
<line x1="1198.3" y1="883.7" x2="1207.8" y2="883.7" stroke="#140505" stroke-width="2.0" />
<line x1="1207.8999999999999" y1="872.7" x2="1207.8999999999999" y2="892.7" stroke="#140505" stroke-width="2.7" />
<line x1="1212.8999999999999" y1="875.2" x2="1212.8999999999999" y2="890.2" stroke="#140505" stroke-width="2.7" />
<line x1="1217.8999999999999" y1="879.2" x2="1217.8999999999999" y2="887.2" stroke="#140505" stroke-width="2.7" />
<g transform="translate(1236.30,891.07) rotate(-90) scale(0.9168,1)" fill="#100c0c"><text font-size="18.2" stroke="#100c0c" stroke-width="0.42">Tacho</text></g>
<g transform="translate(1261.30,892.19) rotate(-90)" fill="#100c0c"><text font-size="18.2" stroke="#100c0c" stroke-width="0.42">BLC  </text><path d="M763,0H583V1107C530,1057 320,940 222,905V1075C370,1135 550,1270 628,1409H763Z" transform="translate(40.46,0) scale(0.00889,-0.00889)" stroke="#100c0c" stroke-width="47.3"/></g>
<g transform="translate(1284.60,892.19) rotate(-90)" fill="#100c0c"><text font-size="18.2" stroke="#100c0c" stroke-width="0.42">BLC 2</text></g>
<g transform="translate(1308.00,892.19) rotate(-90)" fill="#100c0c"><text font-size="18.2" stroke="#100c0c" stroke-width="0.42">BLC 3</text></g>
<g transform="translate(1331.30,891.41) rotate(-90)" fill="#100c0c"><text font-size="18.2" stroke="#100c0c" stroke-width="0.42">0VM</text></g>
<line x1="342.5" y1="780" x2="342.5" y2="808" stroke="#140505" stroke-width="1.75" />
<line x1="368.9" y1="780" x2="368.9" y2="808" stroke="#140505" stroke-width="1.75" />
<path d="M331.8,808.8 C333,818 340,820 348,820 C352,820 355,822 355.8,826 C356.6,822 360,820 364,820 C372,820 378,818 379.5,808.8" fill="none" stroke="#140505" stroke-width="1.7" />
<g transform="translate(348.20,919.24) rotate(-90) scale(1.0582,1)" fill="#100c0c"><text font-size="19.5" stroke="#100c0c" stroke-width="0.42">Set-point</text></g>
<g transform="translate(374.20,901.50) rotate(-90) scale(1.0725,1)" fill="#100c0c"><text font-size="19.5" stroke="#100c0c" stroke-width="0.42">input</text></g>
<polyline points="483.5,780 483.5,827.9 1139.3,827.9 1139.3,777.5" fill="none" stroke="#140505" stroke-width="1.75" />
<polyline points="670,780 670,794 1046,794 1046,777.5" fill="none" stroke="#140505" stroke-width="1.75" />
<path d="M529.4,812.9 H1183.3" fill="none" stroke="#140505" stroke-width="2.4" stroke-dasharray="25 7 6 6" stroke-dashoffset="33.4"/>
<path d="M529.4,812.9 V779" fill="none" stroke="#140505" stroke-width="2.4" stroke-dasharray="25 7 6 6"/>
<path d="M1183.3,812.9 V777" fill="none" stroke="#140505" stroke-width="2.4" stroke-dasharray="25 7 6 6"/>
<rect x="690.0999999999999" y="781.5" width="14.4" height="23" rx="7.2" ry="7.5" fill="none" stroke="#140505" stroke-width="1.4" stroke-dasharray="4 2.5"/>
<circle cx="697.3" cy="806.2" r="3.6" fill="#140505"/>
<circle cx="697.3" cy="813.5" r="3.8" fill="#140505"/>
<line x1="697.3" y1="806" x2="697.3" y2="813.5" stroke="#140505" stroke-width="1.8" />
<rect x="1017.0" y="781.5" width="14.4" height="23" rx="7.2" ry="7.5" fill="none" stroke="#140505" stroke-width="1.4" stroke-dasharray="4 2.5"/>
<circle cx="1024.2" cy="806.2" r="3.6" fill="#140505"/>
<circle cx="1024.2" cy="813.5" r="3.8" fill="#140505"/>
<line x1="1024.2" y1="806" x2="1024.2" y2="813.5" stroke="#140505" stroke-width="1.8" />
<circle cx="766.1" cy="828.9" r="4.2" fill="#140505"/>
<line x1="766.1" y1="829" x2="766.1" y2="999.6" stroke="#140505" stroke-width="1.75" />
<g transform="translate(761.20,1000.65) rotate(-90) scale(1.0083,1)" fill="#100c0c"><text font-size="20.5" stroke="#100c0c" stroke-width="0.42">Comon controller</text></g>
<g transform="translate(784.80,991.68) rotate(-90) scale(1.0109,1)" fill="#100c0c"><text font-size="20.5" stroke="#100c0c" stroke-width="0.42">enabling signal</text></g>
<line x1="490.8" y1="930" x2="490.8" y2="1220" stroke="#140505" stroke-width="1.75" />
<line x1="513.6" y1="930" x2="513.6" y2="1220" stroke="#140505" stroke-width="1.75" />
<line x1="537.6" y1="930" x2="537.6" y2="1220" stroke="#140505" stroke-width="1.75" />
<line x1="604.8" y1="930" x2="604.8" y2="1220" stroke="#140505" stroke-width="1.75" />
<line x1="628.3" y1="930" x2="628.3" y2="1220" stroke="#140505" stroke-width="1.75" />
<line x1="651.6" y1="930" x2="651.6" y2="1220" stroke="#140505" stroke-width="1.75" />
<line x1="672.5" y1="930" x2="672.5" y2="1220" stroke="#140505" stroke-width="1.75" />
<line x1="698.4" y1="930" x2="698.4" y2="1220" stroke="#140505" stroke-width="1.75" />
<line x1="580.8" y1="930" x2="580.8" y2="1220" stroke="#140505" stroke-width="2.3" />
<line x1="560.4" y1="930" x2="560.4" y2="1004.7" stroke="#140505" stroke-width="1.75" />
<line x1="558.5" y1="1176.8" x2="558.5" y2="1220" stroke="#140505" stroke-width="1.75" />
<line x1="1142.3" y1="930.3" x2="1142.3" y2="1217.3" stroke="#140505" stroke-width="1.75" />
<line x1="1165.9" y1="930.3" x2="1165.9" y2="1217.3" stroke="#140505" stroke-width="1.75" />
<line x1="1188.5" y1="930.3" x2="1188.5" y2="1217.3" stroke="#140505" stroke-width="1.75" />
<line x1="1256.2" y1="930.3" x2="1256.2" y2="1217.3" stroke="#140505" stroke-width="1.75" />
<line x1="1280.2" y1="930.3" x2="1280.2" y2="1217.3" stroke="#140505" stroke-width="1.75" />
<line x1="1302.8" y1="930.3" x2="1302.8" y2="1217.3" stroke="#140505" stroke-width="1.75" />
<line x1="1323.8" y1="930.3" x2="1323.8" y2="1217.3" stroke="#140505" stroke-width="1.75" />
<line x1="1350.2" y1="930.3" x2="1350.2" y2="1217.3" stroke="#140505" stroke-width="1.75" />
<line x1="1212.5" y1="930.3" x2="1212.5" y2="1002" stroke="#140505" stroke-width="1.75" />
<line x1="1232.8" y1="988.5" x2="1232.8" y2="1217.3" stroke="#140505" stroke-width="1.75" />
<path d="M1226.5,990 C1229,985 1231,985 1234,988 C1237,991 1239,990 1241.5,986" fill="none" stroke="#140505" stroke-width="1.3" />
<polyline points="1165.9,930.3 1174.5,973.5 1222.8,973.5 1232.8,930.3" fill="none" stroke="#140505" stroke-width="1.4" />
<line x1="1209.5" y1="1174" x2="1209.5" y2="1217.3" stroke="#140505" stroke-width="1.75" />
<path d="M484.8,1004 A18.0,13.799999999999955 0 0 0 484.8,1031.6" fill="none" stroke="#140505" stroke-width="1.6" />
<path d="M705.6,1004 A18.699999999999932,13.799999999999955 0 0 1 705.6,1031.6" fill="none" stroke="#140505" stroke-width="1.6" />
<line x1="484.8" y1="1004" x2="496.3" y2="1004" stroke="#140505" stroke-width="1.8" />
<line x1="507.6" y1="1004" x2="547.2" y2="1004" stroke="#140505" stroke-width="1.8" />
<line x1="564" y1="1004" x2="600.5" y2="1004" stroke="#140505" stroke-width="1.8" />
<line x1="612" y1="1004" x2="651.6" y2="1004" stroke="#140505" stroke-width="1.8" />
<line x1="664.8" y1="1004" x2="705.6" y2="1004" stroke="#140505" stroke-width="1.8" />
<line x1="484.8" y1="1031.6" x2="498" y2="1031.6" stroke="#140505" stroke-width="1.8" />
<line x1="511.2" y1="1031.6" x2="550.8" y2="1031.6" stroke="#140505" stroke-width="1.8" />
<line x1="562.8" y1="1031.6" x2="602.4" y2="1031.6" stroke="#140505" stroke-width="1.8" />
<line x1="614.4" y1="1031.6" x2="654" y2="1031.6" stroke="#140505" stroke-width="1.8" />
<line x1="667.2" y1="1031.6" x2="705.6" y2="1031.6" stroke="#140505" stroke-width="1.8" />
<path d="M484.8,1128.3 A18.0,13.800000000000068 0 0 0 484.8,1155.9" fill="none" stroke="#140505" stroke-width="1.6" />
<path d="M705.6,1128.3 A18.699999999999932,13.800000000000068 0 0 1 705.6,1155.9" fill="none" stroke="#140505" stroke-width="1.6" />
<line x1="484.8" y1="1128.3" x2="498" y2="1128.3" stroke="#140505" stroke-width="1.8" />
<line x1="510" y1="1128.3" x2="544.5" y2="1128.3" stroke="#140505" stroke-width="1.8" />
<line x1="572.4" y1="1128.3" x2="602.4" y2="1128.3" stroke="#140505" stroke-width="1.8" />
<line x1="613.2" y1="1128.3" x2="654" y2="1128.3" stroke="#140505" stroke-width="1.8" />
<line x1="664.8" y1="1128.3" x2="705.6" y2="1128.3" stroke="#140505" stroke-width="1.8" />
<line x1="484.8" y1="1155.9" x2="498" y2="1155.9" stroke="#140505" stroke-width="1.8" />
<line x1="511.2" y1="1155.9" x2="544.5" y2="1155.9" stroke="#140505" stroke-width="1.8" />
<line x1="572.4" y1="1155.9" x2="602.4" y2="1155.9" stroke="#140505" stroke-width="1.8" />
<line x1="614.4" y1="1155.9" x2="654" y2="1155.9" stroke="#140505" stroke-width="1.8" />
<line x1="667.2" y1="1155.9" x2="705.6" y2="1155.9" stroke="#140505" stroke-width="1.8" />
<path d="M1136,1001.5 A18.700000000000045,13.75 0 0 0 1136,1029" fill="none" stroke="#140505" stroke-width="1.6" />
<path d="M1357.7,1001.5 A18.200000000000045,13.75 0 0 1 1357.7,1029" fill="none" stroke="#140505" stroke-width="1.6" />
<line x1="1136" y1="1001.5" x2="1150" y2="1001.5" stroke="#140505" stroke-width="1.8" />
<line x1="1161.7" y1="1001.5" x2="1201.3" y2="1001.5" stroke="#140505" stroke-width="1.8" />
<line x1="1214.2" y1="1001.5" x2="1253.8" y2="1001.5" stroke="#140505" stroke-width="1.8" />
<line x1="1265.5" y1="1001.5" x2="1306.3" y2="1001.5" stroke="#140505" stroke-width="1.8" />
<line x1="1318" y1="1001.5" x2="1357.7" y2="1001.5" stroke="#140505" stroke-width="1.8" />
<line x1="1136" y1="1029" x2="1150" y2="1029" stroke="#140505" stroke-width="1.8" />
<line x1="1161.7" y1="1029" x2="1201.3" y2="1029" stroke="#140505" stroke-width="1.8" />
<line x1="1214.2" y1="1029" x2="1253.8" y2="1029" stroke="#140505" stroke-width="1.8" />
<line x1="1265.5" y1="1029" x2="1306.3" y2="1029" stroke="#140505" stroke-width="1.8" />
<line x1="1318" y1="1029" x2="1357.7" y2="1029" stroke="#140505" stroke-width="1.8" />
<path d="M1136,1125.2 A17.5,14.0 0 0 0 1136,1153.2" fill="none" stroke="#140505" stroke-width="1.6" />
<path d="M1357.7,1125.2 A21.0,14.0 0 0 1 1357.7,1153.2" fill="none" stroke="#140505" stroke-width="1.6" />
<line x1="1136" y1="1125.2" x2="1147.7" y2="1125.2" stroke="#140505" stroke-width="1.8" />
<line x1="1160.5" y1="1125.2" x2="1195.5" y2="1125.2" stroke="#140505" stroke-width="1.8" />
<line x1="1223.5" y1="1125.2" x2="1258.5" y2="1125.2" stroke="#140505" stroke-width="1.8" />
<line x1="1263.2" y1="1125.2" x2="1302.8" y2="1125.2" stroke="#140505" stroke-width="1.8" />
<line x1="1315.6" y1="1125.2" x2="1357.7" y2="1125.2" stroke="#140505" stroke-width="1.8" />
<line x1="1136" y1="1153.2" x2="1150" y2="1153.2" stroke="#140505" stroke-width="1.8" />
<line x1="1162.8" y1="1153.2" x2="1195.5" y2="1153.2" stroke="#140505" stroke-width="1.8" />
<line x1="1223.5" y1="1153.2" x2="1255" y2="1153.2" stroke="#140505" stroke-width="1.8" />
<line x1="1266.7" y1="1153.2" x2="1306.3" y2="1153.2" stroke="#140505" stroke-width="1.8" />
<line x1="1319.2" y1="1153.2" x2="1357.7" y2="1153.2" stroke="#140505" stroke-width="1.8" />
<circle cx="467.5" cy="1019.6" r="4.3" fill="#140505"/>
<circle cx="561" cy="1004.7" r="4.3" fill="#140505"/>
<circle cx="470" cy="1140.8" r="4.3" fill="#140505"/>
<path d="M467.5,1020 V1141" fill="none" stroke="#140505" stroke-width="1.7" stroke-dasharray="6 4.5"/>
<polyline points="470,1138.9 444,1138.9 444,1220" fill="none" stroke="#140505" stroke-width="1.75" />
<line x1="466.8" y1="1174" x2="466.8" y2="1220" stroke="#140505" stroke-width="1.75" />
<circle cx="1119.2" cy="1016.7" r="4.3" fill="#140505"/>
<circle cx="1213.5" cy="1002" r="4.3" fill="#140505"/>
<circle cx="1122" cy="1138.5" r="4.3" fill="#140505"/>
<path d="M1119.2,1017 V1138" fill="none" stroke="#140505" stroke-width="1.7" stroke-dasharray="6 4.5"/>
<polyline points="1122,1138.5 1095.9,1138.5 1095.9,1217.3" fill="none" stroke="#140505" stroke-width="1.75" />
<line x1="1119.2" y1="1174" x2="1119.2" y2="1217.3" stroke="#140505" stroke-width="1.75" />
<circle cx="1365.8" cy="1073.8" r="12.9" fill="#fff" stroke="#140505" stroke-width="1.4" />
<g transform="translate(1359.90,1080.30) scale(1.0500,1)" fill="#100c0c"><text font-size="18.5" stroke="#100c0c" stroke-width="0.3">8</text></g>
<g transform="translate(563.40,1170.22) rotate(-90) scale(0.9483,1)" fill="#100c0c"><text font-size="19.5" stroke="#100c0c" stroke-width="0.42">Polarizing pin</text></g>
<g transform="translate(1217.30,1168.72) rotate(-90) scale(0.9501,1)" fill="#100c0c"><text font-size="19.5" stroke="#100c0c" stroke-width="0.42">Polarizing pin</text></g>
<g transform="translate(430.63,1208.50) scale(1.0500,1)" fill="#100c0c"><text font-size="19.5" stroke="#100c0c" stroke-width="0.42">5</text></g>
<g transform="translate(451.44,1208.50) scale(1.0500,1)" fill="#100c0c"><text font-size="19.5" stroke="#100c0c" stroke-width="0.42">6</text></g>
<g transform="translate(467.90,1208.50) scale(1.0500,1)" fill="#100c0c"><text font-size="19.5" stroke="#100c0c" stroke-width="0.42"> 0</text><path d="M763,0H583V1107C530,1057 320,940 222,905V1075C370,1135 550,1270 628,1409H763Z" transform="translate(0.00,0) scale(0.00952,-0.00952)" stroke="#100c0c" stroke-width="44.1"/></g>
<g transform="translate(489.78,1208.50) scale(1.0500,1)" fill="#100c0c"><text font-size="19.5" stroke="#100c0c" stroke-width="0.42">  </text><path d="M763,0H583V1107C530,1057 320,940 222,905V1075C370,1135 550,1270 628,1409H763Z" transform="translate(0.00,0) scale(0.00952,-0.00952)" stroke="#100c0c" stroke-width="44.1"/><path d="M763,0H583V1107C530,1057 320,940 222,905V1075C370,1135 550,1270 628,1409H763Z" transform="translate(10.84,0) scale(0.00952,-0.00952)" stroke="#100c0c" stroke-width="44.1"/></g>
<g transform="translate(514.82,1208.50) scale(1.0500,1)" fill="#100c0c"><text font-size="19.5" stroke="#100c0c" stroke-width="0.42"> 2</text><path d="M763,0H583V1107C530,1057 320,940 222,905V1075C370,1135 550,1270 628,1409H763Z" transform="translate(0.00,0) scale(0.00952,-0.00952)" stroke="#100c0c" stroke-width="44.1"/></g>
<g transform="translate(546.58,1208.50) scale(1.0500,1)" fill="#100c0c"><text font-size="19.5" stroke="#100c0c" stroke-width="0.42"> </text><path d="M763,0H583V1107C530,1057 320,940 222,905V1075C370,1135 550,1270 628,1409H763Z" transform="translate(0.00,0) scale(0.00952,-0.00952)" stroke="#100c0c" stroke-width="44.1"/></g>
<g transform="translate(569.17,1208.50) scale(1.0500,1)" fill="#100c0c"><text font-size="19.5" stroke="#100c0c" stroke-width="0.42">4</text></g>
<g transform="translate(591.90,1208.50) scale(1.0500,1)" fill="#100c0c"><text font-size="19.5" stroke="#100c0c" stroke-width="0.42">7</text></g>
<g transform="translate(614.71,1208.50) scale(1.0500,1)" fill="#100c0c"><text font-size="19.5" stroke="#100c0c" stroke-width="0.42">8</text></g>
<g transform="translate(637.51,1208.50) scale(1.0500,1)" fill="#100c0c"><text font-size="19.5" stroke="#100c0c" stroke-width="0.42">9</text></g>
<g transform="translate(661.51,1208.50) scale(1.0500,1)" fill="#100c0c"><text font-size="19.5" stroke="#100c0c" stroke-width="0.42">2</text></g>
<g transform="translate(684.37,1208.50) scale(1.0500,1)" fill="#100c0c"><text font-size="19.5" stroke="#100c0c" stroke-width="0.42">3</text></g>
<g transform="translate(1081.33,1206.80) scale(1.0500,1)" fill="#100c0c"><text font-size="19.5" stroke="#100c0c" stroke-width="0.42">5</text></g>
<g transform="translate(1102.24,1206.80) scale(1.0500,1)" fill="#100c0c"><text font-size="19.5" stroke="#100c0c" stroke-width="0.42">6</text></g>
<g transform="translate(1117.90,1206.80) scale(1.0500,1)" fill="#100c0c"><text font-size="19.5" stroke="#100c0c" stroke-width="0.42"> 0</text><path d="M763,0H583V1107C530,1057 320,940 222,905V1075C370,1135 550,1270 628,1409H763Z" transform="translate(0.00,0) scale(0.00952,-0.00952)" stroke="#100c0c" stroke-width="44.1"/></g>
<g transform="translate(1140.38,1206.80) scale(1.0500,1)" fill="#100c0c"><text font-size="19.5" stroke="#100c0c" stroke-width="0.42">  </text><path d="M763,0H583V1107C530,1057 320,940 222,905V1075C370,1135 550,1270 628,1409H763Z" transform="translate(0.00,0) scale(0.00952,-0.00952)" stroke="#100c0c" stroke-width="44.1"/><path d="M763,0H583V1107C530,1057 320,940 222,905V1075C370,1135 550,1270 628,1409H763Z" transform="translate(10.84,0) scale(0.00952,-0.00952)" stroke="#100c0c" stroke-width="44.1"/></g>
<g transform="translate(1164.82,1206.80) scale(1.0500,1)" fill="#100c0c"><text font-size="19.5" stroke="#100c0c" stroke-width="0.42"> 2</text><path d="M763,0H583V1107C530,1057 320,940 222,905V1075C370,1135 550,1270 628,1409H763Z" transform="translate(0.00,0) scale(0.00952,-0.00952)" stroke="#100c0c" stroke-width="44.1"/></g>
<g transform="translate(1199.88,1206.80) scale(1.0500,1)" fill="#100c0c"><text font-size="19.5" stroke="#100c0c" stroke-width="0.42"> </text><path d="M763,0H583V1107C530,1057 320,940 222,905V1075C370,1135 550,1270 628,1409H763Z" transform="translate(0.00,0) scale(0.00952,-0.00952)" stroke="#100c0c" stroke-width="44.1"/></g>
<g transform="translate(1220.17,1206.80) scale(1.0500,1)" fill="#100c0c"><text font-size="19.5" stroke="#100c0c" stroke-width="0.42">4</text></g>
<g transform="translate(1242.80,1206.80) scale(1.0500,1)" fill="#100c0c"><text font-size="19.5" stroke="#100c0c" stroke-width="0.42">7</text></g>
<g transform="translate(1265.61,1206.80) scale(1.0500,1)" fill="#100c0c"><text font-size="19.5" stroke="#100c0c" stroke-width="0.42">8</text></g>
<g transform="translate(1287.81,1206.80) scale(1.0500,1)" fill="#100c0c"><text font-size="19.5" stroke="#100c0c" stroke-width="0.42">9</text></g>
<g transform="translate(1310.31,1206.80) scale(1.0500,1)" fill="#100c0c"><text font-size="19.5" stroke="#100c0c" stroke-width="0.42">2</text></g>
<g transform="translate(1332.87,1206.80) scale(1.0500,1)" fill="#100c0c"><text font-size="19.5" stroke="#100c0c" stroke-width="0.42">3</text></g>
<rect x="424.8" y="1220" width="292.60" height="90.00" fill="none" stroke="#0e0303" stroke-width="1.9" />
<g transform="translate(515.48,1267.20) scale(1.0695,1)" fill="#100c0c"><text font-size="19.6" stroke="#100c0c" stroke-width="0.42">Motor feedback</text></g>
<rect x="1076" y="1217.3" width="294.00" height="90.20" fill="none" stroke="#0e0303" stroke-width="1.9" />
<g transform="translate(1157.19,1264.80) scale(1.0606,1)" fill="#100c0c"><text font-size="19.6" stroke="#100c0c" stroke-width="0.42">Motor feedback</text></g>
<polyline points="360.8,1150 360.8,1050.4 963.2,1050.4 963.2,1144.5" fill="none" stroke="#140505" stroke-width="1.75" />
<line x1="140" y1="1154.2" x2="384.5" y2="1154.2" stroke="#140505" stroke-width="1.75" />
<rect x="216" y="1151" width="10.5" height="6" fill="#fff"/>
<rect x="313" y="1151" width="3.3" height="6" fill="#fff"/>
<rect x="348" y="1151" width="7.7" height="6" fill="#fff"/>
<circle cx="178.2" cy="1154.2" r="8.1" fill="#fff" stroke="#140505" stroke-width="1.75" />
<circle cx="206.8" cy="1154.2" r="8.1" fill="#fff" stroke="#140505" stroke-width="1.75" />
<circle cx="234.9" cy="1154.2" r="8.1" fill="#fff" stroke="#140505" stroke-width="1.75" />
<circle cx="263.5" cy="1154.2" r="8.1" fill="#fff" stroke="#140505" stroke-width="1.75" />
<circle cx="307.7" cy="1154.5" r="5.3" fill="#fff" stroke="#140505" stroke-width="1.75" />
<circle cx="360.9" cy="1154.5" r="5.3" fill="#fff" stroke="#140505" stroke-width="1.75" />
<polyline points="307.7,1159.8 307.7,1179.9 321.5,1179.9" fill="none" stroke="#140505" stroke-width="1.75" />
<line x1="321.5" y1="1164.6" x2="321.5" y2="1179.9" stroke="#140505" stroke-width="1.75" />
<polyline points="316.3,1166.3 345.8,1179.9 361.4,1179.9 361.4,1159.8" fill="none" stroke="#140505" stroke-width="1.75" />
<line x1="150.7" y1="1122" x2="150.7" y2="1133" stroke="#140505" stroke-width="1.75" />
<line x1="136.29999999999998" y1="1133" x2="165.1" y2="1133" stroke="#140505" stroke-width="2.6" />
<line x1="141.2" y1="1138.6" x2="160.2" y2="1138.6" stroke="#140505" stroke-width="2.6" />
<line x1="145.39999999999998" y1="1146" x2="156.0" y2="1146" stroke="#140505" stroke-width="2.6" />
<g transform="translate(178.48,1140.90) scale(1.1521,1)" fill="#100c0c"><text font-size="16" stroke="#100c0c" stroke-width="0.42">U  V  W </text><path d="M763,0H583V1107C530,1057 320,940 222,905V1075C370,1135 550,1270 628,1409H763Z" transform="translate(11.55,0) scale(0.00781,-0.00781)" stroke="#100c0c" stroke-width="53.8"/><path d="M763,0H583V1107C530,1057 320,940 222,905V1075C370,1135 550,1270 628,1409H763Z" transform="translate(35.57,0) scale(0.00781,-0.00781)" stroke="#100c0c" stroke-width="53.8"/><path d="M763,0H583V1107C530,1057 320,940 222,905V1075C370,1135 550,1270 628,1409H763Z" transform="translate(64.02,0) scale(0.00781,-0.00781)" stroke="#100c0c" stroke-width="53.8"/></g>
<circle cx="310" cy="1067.3" r="12.9" fill="#fff" stroke="#140505" stroke-width="1.4" />
<g transform="translate(304.10,1073.80) scale(1.0500,1)" fill="#100c0c"><text font-size="18.5" stroke="#100c0c" stroke-width="0.3">2</text></g>
<line x1="306" y1="1086" x2="306" y2="1150" stroke="#140505" stroke-width="1.2" />
<g transform="translate(300.74,1206.00) scale(1.0433,1)" fill="#100c0c"><text font-size="19.6" stroke="#100c0c" stroke-width="0.42">Thermostat</text></g>
<g transform="translate(318.32,1231.20) scale(1.0608,1)" fill="#100c0c"><text font-size="19.6" stroke="#100c0c" stroke-width="0.42">contact</text></g>
<line x1="176.5" y1="1163" x2="176.5" y2="1200.7" stroke="#140505" stroke-width="1.75" />
<line x1="204.8" y1="1163" x2="204.8" y2="1198.5" stroke="#140505" stroke-width="1.75" />
<line x1="233.3" y1="1163" x2="233.3" y2="1199.5" stroke="#140505" stroke-width="1.75" />
<line x1="261.9" y1="1163" x2="261.9" y2="1214" stroke="#140505" stroke-width="1.75" />
<line x1="160.8" y1="1215.3" x2="189.3" y2="1192.7" stroke="#140505" stroke-width="1.5" />
<line x1="793.5" y1="1152" x2="1038.5" y2="1152" stroke="#140505" stroke-width="1.75" />
<rect x="870.3" y="1149" width="6" height="6" fill="#fff"/>
<rect x="920.6" y="1149" width="6" height="6" fill="#fff"/>
<circle cx="826.8" cy="1152.2" r="8.1" fill="#fff" stroke="#140505" stroke-width="1.75" />
<circle cx="855.2" cy="1152.2" r="8.1" fill="#fff" stroke="#140505" stroke-width="1.75" />
<circle cx="883.9" cy="1152.2" r="8.1" fill="#fff" stroke="#140505" stroke-width="1.75" />
<circle cx="912.3" cy="1152.2" r="8.1" fill="#fff" stroke="#140505" stroke-width="1.75" />
<rect x="967" y="1148" width="3.8" height="6" fill="#fff"/>
<rect x="1002.3" y="1148" width="8" height="6" fill="#fff"/>
<circle cx="961.8" cy="1149.7" r="5.3" fill="#fff" stroke="#140505" stroke-width="1.75" />
<circle cx="1016.1" cy="1149.7" r="5.3" fill="#fff" stroke="#140505" stroke-width="1.75" />
<polyline points="960.5,1155 960.5,1177.2 975.3,1177.2" fill="none" stroke="#140505" stroke-width="1.75" />
<line x1="975.3" y1="1162.3" x2="975.3" y2="1177.2" stroke="#140505" stroke-width="1.75" />
<polyline points="970.8,1163.2 1001.4,1177.2 1014.9,1177.2 1014.9,1155" fill="none" stroke="#140505" stroke-width="1.75" />
<line x1="802.5" y1="1119" x2="802.5" y2="1130" stroke="#140505" stroke-width="1.75" />
<line x1="787.2" y1="1130" x2="817.8" y2="1130" stroke="#140505" stroke-width="2.6" />
<line x1="792.0" y1="1135.8" x2="813.0" y2="1135.8" stroke="#140505" stroke-width="2.6" />
<line x1="797.1" y1="1143" x2="807.9" y2="1143" stroke="#140505" stroke-width="2.6" />
<g transform="translate(828.45,1139.80) scale(1.1754,1)" fill="#100c0c"><text font-size="16" stroke="#100c0c" stroke-width="0.42">U  V  W </text><path d="M763,0H583V1107C530,1057 320,940 222,905V1075C370,1135 550,1270 628,1409H763Z" transform="translate(11.55,0) scale(0.00781,-0.00781)" stroke="#100c0c" stroke-width="53.8"/><path d="M763,0H583V1107C530,1057 320,940 222,905V1075C370,1135 550,1270 628,1409H763Z" transform="translate(35.57,0) scale(0.00781,-0.00781)" stroke="#100c0c" stroke-width="53.8"/><path d="M763,0H583V1107C530,1057 320,940 222,905V1075C370,1135 550,1270 628,1409H763Z" transform="translate(64.02,0) scale(0.00781,-0.00781)" stroke="#100c0c" stroke-width="53.8"/></g>
<circle cx="1018.7" cy="1064.7" r="12.9" fill="#fff" stroke="#140505" stroke-width="1.4" />
<g transform="translate(1012.80,1071.20) scale(1.0500,1)" fill="#100c0c"><text font-size="18.5" stroke="#100c0c" stroke-width="0.3">2</text></g>
<line x1="1014.7" y1="1084.7" x2="1014.7" y2="1145" stroke="#140505" stroke-width="1.2" />
<g transform="translate(954.04,1202.40) scale(1.0544,1)" fill="#100c0c"><text font-size="19.6" stroke="#100c0c" stroke-width="0.42">Thermostat</text></g>
<g transform="translate(972.11,1228.60) scale(1.0640,1)" fill="#100c0c"><text font-size="19.6" stroke="#100c0c" stroke-width="0.42">contact</text></g>
<line x1="825.4" y1="1160" x2="825.4" y2="1198" stroke="#140505" stroke-width="1.75" />
<line x1="854.7" y1="1160" x2="854.7" y2="1196" stroke="#140505" stroke-width="1.75" />
<line x1="885.2" y1="1160" x2="885.2" y2="1196" stroke="#140505" stroke-width="1.75" />
<line x1="910.8" y1="1160" x2="910.8" y2="1210" stroke="#140505" stroke-width="1.75" />
<line x1="812" y1="1213" x2="838.7" y2="1189.6" stroke="#140505" stroke-width="1.5" />
<circle cx="219" cy="1263.6" r="65" fill="#fff" stroke="#140505" stroke-width="1.75" />
<g transform="translate(207.25,1248.80) scale(1.0500,1)" fill="#100c0c"><text font-size="25.5" stroke="#100c0c" stroke-width="0.42">M</text></g>
<g transform="translate(192.86,1288.00) scale(1.0500,1)" fill="#100c0c"><text font-size="18.5" stroke="#100c0c" stroke-width="0.42">3</text></g>
<path d="M210,1286 C214,1277 218,1276 223,1283 C227,1290 233,1294 238.5,1286" fill="none" stroke="#140505" stroke-width="1.5" />
<rect x="199.8" y="1296" width="18" height="15.1" fill="#0e0303"/>
<rect x="217.8" y="1297" width="15.80" height="13.10" fill="#fff" stroke="#0e0303" stroke-width="2.0" />
<circle cx="870.9" cy="1261" r="65" fill="#fff" stroke="#140505" stroke-width="1.75" />
<g transform="translate(859.35,1244.00) scale(1.0500,1)" fill="#100c0c"><text font-size="25.5" stroke="#100c0c" stroke-width="0.42">M</text></g>
<g transform="translate(844.66,1282.80) scale(1.0500,1)" fill="#100c0c"><text font-size="18.5" stroke="#100c0c" stroke-width="0.42">3</text></g>
<path d="M861.9,1280.8 C865.9,1271.8 869.9,1270.8 874.9,1277.8 C878.9,1284.8 884.9,1288.8 890.4,1280.8" fill="none" stroke="#140505" stroke-width="1.5" />
<rect x="851.6999999999999" y="1296.3" width="18" height="15.1" fill="#0e0303"/>
<rect x="869.6999999999999" y="1297.3" width="15.80" height="13.10" fill="#fff" stroke="#0e0303" stroke-width="2.0" />
<line x1="280" y1="1257.2" x2="426" y2="1257.2" stroke="#140505" stroke-width="1.8" />
<line x1="283" y1="1264.8" x2="426" y2="1264.8" stroke="#140505" stroke-width="1.8" />
<line x1="934" y1="1254.7" x2="1077.6" y2="1254.7" stroke="#140505" stroke-width="1.8" />
<line x1="934" y1="1261.7" x2="1077.6" y2="1261.7" stroke="#140505" stroke-width="1.8" />
<polyline points="212.8,1327 212.8,1388.7 872.4,1388.7 872.4,1325" fill="none" stroke="#140505" stroke-width="1.75" />
<polyline points="220.8,1328 220.8,1380.6 864.3,1380.6 864.3,1326" fill="none" stroke="#140505" stroke-width="1.75" />
<g transform="translate(403.44,1420.70) scale(1.0546,1)" fill="#100c0c"><text font-size="19.5" stroke="#100c0c" stroke-width="0.42">Torsionally stiff mechanical coupling</text></g>
<circle cx="757" cy="1413.5" r="12.9" fill="#fff" stroke="#140505" stroke-width="1.4" />
<g transform="translate(751.83,1420.00) scale(1.0500,1)" fill="#100c0c"><text font-size="18.5" stroke="#100c0c" stroke-width="0.3"> </text><path d="M763,0H583V1107C530,1057 320,940 222,905V1075C370,1135 550,1270 628,1409H763Z" transform="translate(0.00,0) scale(0.00903,-0.00903)" stroke="#100c0c" stroke-width="33.2"/></g>
<g transform="translate(226.98,1486.00) scale(1.0739,1)" fill="#100c0c"><text font-size="19.5" stroke="#100c0c" stroke-width="0.42">Remarks</text></g>
<circle cx="334" cy="1479.2" r="12.9" fill="#fff" stroke="#140505" stroke-width="1.4" />
<g transform="translate(328.83,1485.70) scale(1.0500,1)" fill="#100c0c"><text font-size="18.5" stroke="#100c0c" stroke-width="0.3"> </text><path d="M763,0H583V1107C530,1057 320,940 222,905V1075C370,1135 550,1270 628,1409H763Z" transform="translate(0.00,0) scale(0.00903,-0.00903)" stroke="#100c0c" stroke-width="33.2"/></g>
<g transform="translate(356.73,1486.00) scale(1.0768,1)" fill="#100c0c"><text font-size="20" stroke="#100c0c" stroke-width="0.42">....</text></g>
<circle cx="407.2" cy="1479.2" r="12.8" fill="#fff" stroke="#140505" stroke-width="1.3" />
<g transform="translate(426.22,1486.00) scale(1.0665,1)" fill="#100c0c"><text font-size="19.5" stroke="#100c0c" stroke-width="0.42">see sheet 2</text></g>
<circle cx="1359" cy="857.3" r="12.9" fill="#fff" stroke="#140505" stroke-width="1.4" />
<g transform="translate(1353.83,863.80) scale(1.0500,1)" fill="#100c0c"><text font-size="18.5" stroke="#100c0c" stroke-width="0.3"> </text><path d="M763,0H583V1107C530,1057 320,940 222,905V1075C370,1135 550,1270 628,1409H763Z" transform="translate(0.00,0) scale(0.00903,-0.00903)" stroke="#100c0c" stroke-width="33.2"/></g>
<polyline points="1326.7,898.3 1353.3,875 1375.5,875 1347,898.5" fill="none" stroke="#140505" stroke-width="1.3" />
<g transform="translate(1179.79,1455.80) scale(1.0182,1)" fill="#100c0c"><text font-size="15.5" stroke="#100c0c" stroke-width="0.42"> 2AENA3A-MS/TDM </text><path d="M763,0H583V1107C530,1057 320,940 222,905V1075C370,1135 550,1270 628,1409H763Z" transform="translate(0.00,0) scale(0.00757,-0.00757)" stroke="#100c0c" stroke-width="55.5"/><path d="M763,0H583V1107C530,1057 320,940 222,905V1075C370,1135 550,1270 628,1409H763Z" transform="translate(144.70,0) scale(0.00757,-0.00757)" stroke="#100c0c" stroke-width="55.5"/></g>
</svg>
<svg width="1500" height="1500" viewBox="0 0 1500 1500" style="mix-blend-mode:multiply">
<path d="M1367.1,1228.3 L1374.8,1218.0 L1412.3,1228.0 L1413.8,1240.8 A130.0,130.0 0 0 1 1430.7,1250.5 L1442.5,1245.4 L1469.9,1272.8 L1464.8,1284.6 A130.0,130.0 0 0 1 1474.5,1301.5 L1487.3,1303.0 L1497.3,1340.5 L1487.0,1348.2 A130.0,130.0 0 0 1 1487.0,1367.6 L1497.3,1375.3 L1487.3,1412.8 L1474.5,1414.3 A130.0,130.0 0 0 1 1464.8,1431.2 L1469.9,1443.0 L1442.5,1470.4 L1430.7,1465.3 A130.0,130.0 0 0 1 1413.8,1475.0 L1412.3,1487.8 L1374.8,1497.8 L1367.1,1487.5 A130.0,130.0 0 0 1 1347.7,1487.5 L1340.0,1497.8 L1302.5,1487.8 L1301.0,1475.0 A130.0,130.0 0 0 1 1284.1,1465.3 L1272.3,1470.4 L1244.9,1443.0 L1250.0,1431.2 A130.0,130.0 0 0 1 1240.3,1414.3 L1227.5,1412.8 L1217.5,1375.3 L1227.8,1367.6 A130.0,130.0 0 0 1 1227.8,1348.2 L1217.5,1340.5 L1227.5,1303.0 L1240.3,1301.5 A130.0,130.0 0 0 1 1250.0,1284.6 L1244.9,1272.8 L1272.3,1245.4 L1284.1,1250.5 A130.0,130.0 0 0 1 1301.0,1240.8 L1302.5,1228.0 L1340.0,1218.0 L1347.7,1228.3 A130.0,130.0 0 0 1 1367.1,1228.3 Z" fill="#d2ddf6"/>
<path d="M1370.6,1232.6 L1378.1,1222.5 L1407.2,1230.3 L1408.6,1242.8 A126.0,126.0 0 0 1 1431.5,1256.0 L1443.1,1251.0 L1464.3,1272.2 L1459.3,1283.8 A126.0,126.0 0 0 1 1472.5,1306.7 L1485.0,1308.1 L1492.8,1337.2 L1482.7,1344.7 A126.0,126.0 0 0 1 1482.7,1371.1 L1492.8,1378.6 L1485.0,1407.7 L1472.5,1409.1 A126.0,126.0 0 0 1 1459.3,1432.0 L1464.3,1443.6 L1443.1,1464.8 L1431.5,1459.8 A126.0,126.0 0 0 1 1408.6,1473.0 L1407.2,1485.5 L1378.1,1493.3 L1370.6,1483.2 A126.0,126.0 0 0 1 1344.2,1483.2 L1336.7,1493.3 L1307.6,1485.5 L1306.2,1473.0 A126.0,126.0 0 0 1 1283.3,1459.8 L1271.7,1464.8 L1250.5,1443.6 L1255.5,1432.0 A126.0,126.0 0 0 1 1242.3,1409.1 L1229.8,1407.7 L1222.0,1378.6 L1232.1,1371.1 A126.0,126.0 0 0 1 1232.1,1344.7 L1222.0,1337.2 L1229.8,1308.1 L1242.3,1306.7 A126.0,126.0 0 0 1 1255.5,1283.8 L1250.5,1272.2 L1271.7,1251.0 L1283.3,1256.0 A126.0,126.0 0 0 1 1306.2,1242.8 L1307.6,1230.3 L1336.7,1222.5 L1344.2,1232.6 A126.0,126.0 0 0 1 1370.6,1232.6 Z" fill="#ffffff"/>
<path d="M1372.8,1245.4 L1381.6,1224.6 L1403.1,1230.3 L1400.3,1252.7 A113.6,113.6 0 0 1 1427.0,1268.1 L1445.0,1254.6 L1460.7,1270.3 L1447.2,1288.3 A113.6,113.6 0 0 1 1462.6,1315.0 L1485.0,1312.2 L1490.7,1333.7 L1469.9,1342.5 A113.6,113.6 0 0 1 1469.9,1373.3 L1490.7,1382.1 L1485.0,1403.6 L1462.6,1400.8 A113.6,113.6 0 0 1 1447.2,1427.5 L1460.7,1445.5 L1445.0,1461.2 L1427.0,1447.7 A113.6,113.6 0 0 1 1400.3,1463.1 L1403.1,1485.5 L1381.6,1491.2 L1372.8,1470.4 A113.6,113.6 0 0 1 1342.0,1470.4 L1333.2,1491.2 L1311.7,1485.5 L1314.5,1463.1 A113.6,113.6 0 0 1 1287.8,1447.7 L1269.8,1461.2 L1254.1,1445.5 L1267.6,1427.5 A113.6,113.6 0 0 1 1252.2,1400.8 L1229.8,1403.6 L1224.1,1382.1 L1244.9,1373.3 A113.6,113.6 0 0 1 1244.9,1342.5 L1224.1,1333.7 L1229.8,1312.2 L1252.2,1315.0 A113.6,113.6 0 0 1 1267.6,1288.3 L1254.1,1270.3 L1269.8,1254.6 L1287.8,1268.1 A113.6,113.6 0 0 1 1314.5,1252.7 L1311.7,1230.3 L1333.2,1224.6 L1342.0,1245.4 A113.6,113.6 0 0 1 1372.8,1245.4 Z" fill="#c8d5f3"/>
<circle cx="1357.4" cy="1357.9" r="101.2" fill="none" stroke="#fff" stroke-width="4.6"/>
<circle cx="1357.4" cy="1357.9" r="90" fill="none" stroke="#fff" stroke-width="4.6"/>
<path d="M1321.2,1311.5 L1338.6,1311.5 L1338.6,1345.3 L1388.8,1304.7 L1408.2,1304.7 L1364.7,1352.1 L1389.8,1374.4 L1397.5,1366.6 L1409.1,1409.2 L1366.6,1397.5 L1374.4,1390.8 L1338.6,1357 L1338.6,1398.5 L1321.2,1398.5 L1321.2,1360.8 L1283.5,1360.8 L1283.5,1342.4 L1321.2,1342.4 Z" fill="#ffffff"/>
</svg>
</body></html>
